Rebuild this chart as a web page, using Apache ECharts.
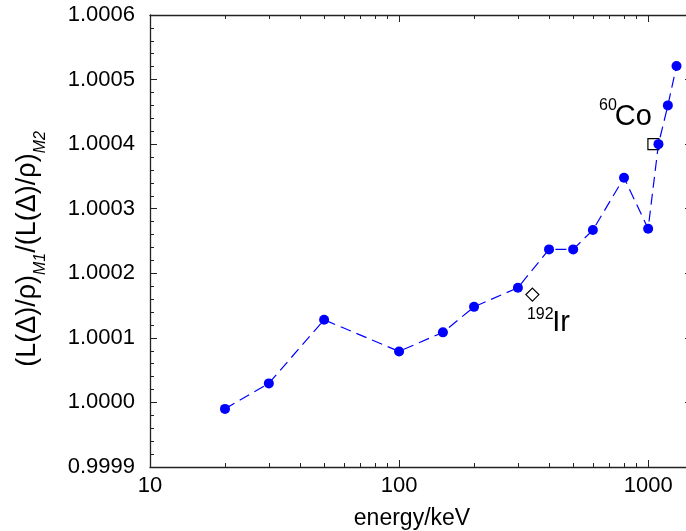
<!DOCTYPE html>
<html><head><meta charset="utf-8">
<script src="https://cdn.jsdelivr.net/npm/echarts@6/dist/echarts.min.js"></script>
<style>html,body{margin:0;padding:0;background:#fff}#c{width:686px;height:531px}</style>
</head><body><div id="c"></div>
<script>
// data
const energies = [20, 30, 50, 100, 150, 200, 300, 400, 500, 600, 800, 1000, 1100, 1200, 1300];
const ratios = [0.99999, 1.0000295, 1.000128, 1.000079, 1.0001085, 1.000148, 1.0001777, 1.000237, 1.000237, 1.000267, 1.000348, 1.000269, 1.0004, 1.00046, 1.000521];
const coPoint = [1050, 1.0004];
const irPoint = [343, 1.000167];
const xMajorTicks = [10, 100, 1000];
const xMinorTicks = [20, 30, 40, 50, 60, 70, 80, 90, 200, 300, 400, 500, 600, 700, 800, 900];
const xMin = 10, xMax = 1500;
const yMin = 0.9999, yMax = 1.0006, yStep = 0.0001;

const FONT = "'Liberation Sans', Arial, sans-serif";
const AX = '#222';

function xAxisDef(pos, ticks, len, showLine, showLabels, extra) {
  return Object.assign({
    type: 'log', logBase: 10, min: xMin, max: xMax, position: pos,
    axisLine: { show: showLine, lineStyle: { color: AX, width: 1.3 } },
    axisTick: { show: true, inside: true, length: len, customValues: ticks, lineStyle: { color: AX, width: 1 } },
    axisLabel: { show: showLabels, customValues: ticks, margin: 8, color: '#000', fontSize: 22, fontFamily: FONT,
      formatter: v => String(Math.round(v)) },
    splitLine: { show: false }, minorTick: { show: false }
  }, extra || {});
}
function yAxisDef(pos, showLabels, extra) {
  return Object.assign({
    type: 'value', min: yMin, max: yMax, interval: yStep, position: pos,
    axisLine: { show: true, lineStyle: { color: AX, width: 1.3 } },
    axisTick: { show: true, inside: true, length: 7, lineStyle: { color: AX, width: 1 } },
    minorTick: { show: true, splitNumber: 5, length: 4, lineStyle: { color: AX, width: 1 } },
    axisLabel: { show: showLabels, margin: 15, color: '#000', fontSize: 22, fontFamily: FONT,
      formatter: v => v.toFixed(4) },
    splitLine: { show: false }
  }, extra || {});
}
function textLabel(text, size, pos, align, vAlign) {
  return { show: true, formatter: text, position: pos, align: align, verticalAlign: vAlign,
    fontSize: size, lineHeight: size, fontFamily: FONT, color: '#000', opacity: 1 };
}
const clear = { color: 'rgba(0,0,0,0)', borderWidth: 0, opacity: 1 };

const chart = echarts.init(document.getElementById('c'), null, { renderer: 'canvas' });
chart.setOption({
  animation: false,
  backgroundColor: '#fff',
  grid: { left: 150, right: -6, top: 15, bottom: 64, containLabel: false, outerBoundsMode: 'none' },
  xAxis: [
    xAxisDef('bottom', xMajorTicks, 7, true, true, {
      name: 'energy/keV', nameLocation: 'middle', nameGap: 40,
      nameTextStyle: { color: '#000', fontSize: 23, fontFamily: FONT, padding: [0, 18, 0, 0] }
    }),
    xAxisDef('bottom', xMinorTicks, 4, false, false),
    xAxisDef('top', xMajorTicks, 7, true, false),
    xAxisDef('top', xMinorTicks, 4, false, false)
  ],
  yAxis: [
    yAxisDef('left', true, {
      name: '{m|(L(Δ)/ρ)}{s|M1}{m|/(L(Δ)/ρ)}{s|M2}',
      nameLocation: 'middle', nameRotate: 90, nameGap: 101,
      nameTextStyle: {
        color: '#000', fontFamily: FONT, padding: [0, 16, 0, 0],
        rich: {
          m: { fontSize: 27, fontFamily: FONT, color: '#000', lineHeight: 35, verticalAlign: 'top' },
          s: { fontSize: 16, fontStyle: 'italic', fontFamily: FONT, color: '#000', lineHeight: 35, verticalAlign: 'bottom' }
        }
      }
    }),
    yAxisDef('right', false)
  ],
  series: [
    {
      type: 'line', xAxisIndex: 0, yAxisIndex: 0,
      data: energies.map((e, i) => [e, ratios[i]]),
      symbol: 'circle', symbolSize: 10,
      itemStyle: { color: '#0000ff' },
      lineStyle: { color: '#0000ff', width: 1.2, type: [11, 6] },
      z: 3
    },
    {
      type: 'scatter', xAxisIndex: 0, yAxisIndex: 0,
      data: [coPoint], symbol: 'rect', symbolSize: 11,
      itemStyle: { color: 'rgba(0,0,0,0)', borderColor: '#000', borderWidth: 1.2, opacity: 1 },
      z: 2,
      label: textLabel('Co', 29, [4.5, -6.5], 'right', 'bottom')
    },
    {
      type: 'scatter', xAxisIndex: 0, yAxisIndex: 0, silent: true,
      data: [coPoint], symbol: 'rect', symbolSize: 11, itemStyle: clear, z: 1,
      label: textLabel('60', 16, [-31, -41], 'right', 'top')
    },
    {
      type: 'scatter', xAxisIndex: 0, yAxisIndex: 0,
      data: [irPoint], symbol: 'diamond', symbolSize: 13,
      itemStyle: { color: 'rgba(0,0,0,0)', borderColor: '#000', borderWidth: 1.2, opacity: 1 },
      z: 2,
      label: textLabel('Ir', 29, [27, 21], 'left', 'top')
    },
    {
      type: 'scatter', xAxisIndex: 0, yAxisIndex: 0, silent: true,
      data: [irPoint], symbol: 'diamond', symbolSize: 13, itemStyle: clear, z: 1,
      label: textLabel('192', 16, [1, 18], 'left', 'top')
    }
  ]
});
</script></body></html>
